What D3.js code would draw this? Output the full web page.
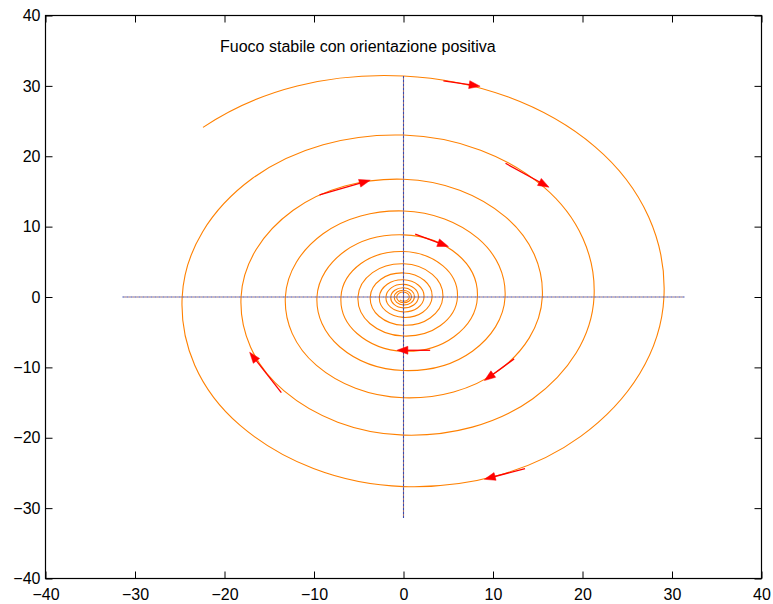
<!DOCTYPE html>
<html><head><meta charset="utf-8">
<script src="https://cdn.jsdelivr.net/npm/d3@7"></script>
<style>
body{margin:0;background:#fff}
svg{display:block}
text{font-family:"Liberation Sans",Arial,Helvetica,sans-serif}
</style>
</head><body>
<svg id="chart" width="773" height="604"></svg>
<script>
// ---- data ----
const xTicks = [-40, -30, -20, -10, 0, 10, 20, 30, 40];
const yTicks = [-40, -30, -20, -10, 0, 10, 20, 30, 40];
const xDomain = [-40, 40];
const yDomain = [-40, 40];

const titleText = "Fuoco stabile con orientazione positiva";
const titlePos = [-20.5, 35.5];

// trajectory: incoming-direction point (not drawn), start point,
// then radius every 45 degrees clockwise starting at 90 degrees
const spiralLeadX = [-34.1, -22.4];
const spiralLeadY = [2.4, 24.1];
const spiralStartAngle = 90;
const spiralAngleStep = -45;
const spiralRadius = [
  31.41, 30.23, 29.10, 28.00, 26.94, 25.81, 24.73, 23.85,
  23.01, 22.13, 21.29, 20.44, 19.62, 18.87, 18.15, 17.43,
  16.73, 16.11, 15.51, 14.90, 14.32, 13.75, 13.20, 12.71,
  12.23, 11.78, 11.35, 10.89, 10.45, 10.05, 9.67, 9.24,
  8.83, 8.54, 8.26, 7.98, 7.71, 7.34, 6.99, 6.72,
  6.46, 6.24, 6.03, 5.79, 5.55, 5.32, 5.09, 4.90,
  4.72, 4.56, 4.40, 4.21, 4.02, 3.87, 3.72, 3.57,
  3.42, 3.31, 3.20, 3.05, 2.90, 2.80, 2.70, 2.57,
  2.45, 2.37, 2.30, 2.21, 2.12, 2.04, 1.96, 1.88,
  1.80, 1.73, 1.67, 1.61, 1.55, 1.49, 1.43, 1.37,
  1.32, 1.27, 1.22, 1.17, 1.13, 1.08, 1.04, 1.00,
  0.96, 0.92, 0.89, 0.85, 0.82, 0.79, 0.76, 0.73,
  0.70, 0.67, 0.65, 0.62, 0.60, 0.58, 0.56
];

// dotted coordinate axes
const hAxisX = [-31.4, 31.4];
const vAxisY = [-31.4, 31.4];

// direction arrows (tail -> tip)
const arrowTailX = [4.46, 11.40, 1.31, -9.38, -13.65, 2.98, 12.36, 13.58];
const arrowTailY = [30.70, 19.00, 8.93, 14.50, -13.60, -7.57, -8.79, -24.38];
const arrowTipX  = [8.56, 16.26, 5.02, -3.72, -17.19, -0.74, 9.04, 9.04];
const arrowTipY  = [29.95, 15.60, 7.17, 16.60, -7.85, -7.57, -11.87, -25.90];

// ---- drawing ----
const svg = d3.select("#chart");
const x = d3.scaleLinear().domain(xDomain).range([45.5, 761.5]);
const y = d3.scaleLinear().domain(yDomain).range([578.5, 15.5]);
const fontSize = 16;

// spiral (open cardinal: first and last points only steer the tangents)
const pts = spiralLeadX.map((v, i) => [v, spiralLeadY[i]]).concat(spiralRadius.map((r, i) => {
  const a = (spiralStartAngle + spiralAngleStep * i) * Math.PI / 180;
  return [r * Math.cos(a), r * Math.sin(a)];
}));
const line = d3.line().x(d => x(d[0])).y(d => y(d[1])).curve(d3.curveCardinalOpen.tension(-0.125));
svg.append("path").attr("d", line(pts))
  .attr("fill", "none").attr("stroke", "#ff8000").attr("stroke-width", 1.1);

// dotted axes lines
const axLines = [
  [[hAxisX[0], 0], [hAxisX[1], 0]],
  [[0, vAxisY[0]], [0, vAxisY[1]]]
];
const straight = d3.line().x(d => x(d[0])).y(d => y(d[1]));
axLines.forEach(l => {
  svg.append("path").attr("d", straight(l)).attr("fill", "none")
    .attr("stroke", "#3a4ab0").attr("stroke-width", 1.1).attr("stroke-dasharray", "2,2");
  svg.append("path").attr("d", straight(l)).attr("fill", "none")
    .attr("stroke", "#a07070").attr("stroke-width", 1.1).attr("stroke-dasharray", "2,2").attr("stroke-dashoffset", 2);
});

// arrows
const headLen = 11, headHalf = 4;
arrowTailX.forEach((_, i) => {
  const x0 = x(arrowTailX[i]), y0 = y(arrowTailY[i]);
  const x1 = x(arrowTipX[i]), y1 = y(arrowTipY[i]);
  const dx = x1 - x0, dy = y1 - y0, L = Math.hypot(dx, dy);
  const ux = dx / L, uy = dy / L;
  svg.append("line").attr("x1", x0).attr("y1", y0).attr("x2", x1 - ux * 4).attr("y2", y1 - uy * 4)
    .attr("stroke", "#ff0000").attr("stroke-width", 1.3);
  const bx = x1 - ux * headLen, by = y1 - uy * headLen;
  svg.append("path")
    .attr("d", `M${x1},${y1}L${bx - uy * headHalf},${by + ux * headHalf}L${bx + uy * headHalf},${by - ux * headHalf}Z`)
    .attr("fill", "#ff0000").attr("stroke", "#ff0000").attr("stroke-width", 0.5);
});

// title text
svg.append("text").attr("x", x(titlePos[0])).attr("y", y(titlePos[1])).attr("dy", "0.3em")
  .attr("font-size", fontSize).attr("fill", "#000").text(titleText);

// axes
const fmt = d3.format("d");
const gB = svg.append("g").attr("transform", `translate(0,${y(yDomain[0])})`)
  .call(d3.axisBottom(x).tickValues(xTicks).tickFormat(fmt).tickSizeInner(-7).tickSizeOuter(0).tickPadding(10));
const gL = svg.append("g").attr("transform", `translate(${x(xDomain[0])},0)`)
  .call(d3.axisLeft(y).tickValues(yTicks).tickFormat(fmt).tickSizeInner(-7).tickSizeOuter(0).tickPadding(5));
const gT = svg.append("g").attr("transform", `translate(0,${y(yDomain[1])})`)
  .call(d3.axisTop(x).tickValues(xTicks).tickFormat("").tickSizeInner(-7).tickSizeOuter(0));
const gR = svg.append("g").attr("transform", `translate(${x(xDomain[1])},0)`)
  .call(d3.axisRight(y).tickValues(yTicks).tickFormat("").tickSizeInner(-7).tickSizeOuter(0));
[gB, gL, gT, gR].forEach(g => {
  g.select(".domain").remove();
  g.selectAll("line").attr("stroke", "#000").attr("stroke-width", 1);
  g.selectAll("text").attr("font-size", fontSize).attr("fill", "#000")
    .style("font-family", '"Liberation Sans",Arial,sans-serif');
});
svg.append("rect").attr("x", x(xDomain[0])).attr("y", y(yDomain[1]))
  .attr("width", x(xDomain[1]) - x(xDomain[0])).attr("height", y(yDomain[0]) - y(yDomain[1]))
  .attr("fill", "none").attr("stroke", "#000").attr("stroke-width", 1.2);
</script>
</body></html>
